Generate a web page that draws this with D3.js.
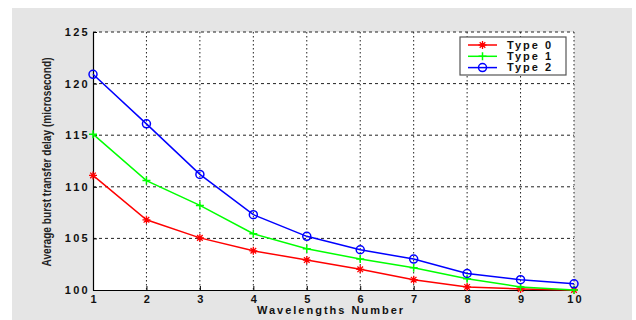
<!DOCTYPE html>
<html>
<head>
<meta charset="utf-8">
<script src="https://cdn.jsdelivr.net/npm/d3@7"></script>
<style>
  body { margin: 0; background: #fff; }
  svg { display: block; }
</style>
</head>
<body>
<script>
const wavelengths = [1, 2, 3, 4, 5, 6, 7, 8, 9, 10];
const type0 = [111.1, 106.8, 105.05, 103.8, 102.9, 102.0, 101.0, 100.3, 100.1, 100.0];
const type1 = [115.1, 110.6, 108.2, 105.45, 104.0, 103.0, 102.15, 101.1, 100.3, 100.0];
const type2 = [120.9, 116.1, 111.2, 107.3, 105.2, 103.9, 103.0, 101.6, 101.0, 100.6];
const yTicks = [100, 105, 110, 115, 120, 125];
const seriesNames = ["Type 0", "Type 1", "Type 2"];
const seriesColors = ["#ff0000", "#00ff00", "#0000ff"];
const seriesMarkers = ["star", "plus", "circle"];

const W = 636, H = 320;
const margin = {top: 32, right: 62, bottom: 30, left: 93};
const width = W - margin.left - margin.right;
const height = H - margin.top - margin.bottom;

const root = d3.select("body").append("svg")
  .attr("width", W)
  .attr("height", H);

// grey figure background
root.append("rect")
  .attr("x", 12).attr("y", 8)
  .attr("width", 620).attr("height", 312)
  .attr("fill", "#e5e5e5");

const svg = root.append("g")
  .attr("transform", `translate(${margin.left}, ${margin.top})`);

svg.append("rect")
  .attr("width", width).attr("height", height)
  .attr("fill", "#fff");

const x = d3.scaleLinear().domain([1, 10]).range([0, width]);
const y = d3.scaleLinear().domain([100, 125]).range([height, 0]);

const tickFont = "'Liberation Sans', Arial, sans-serif";

// grid
svg.append("g").selectAll("line")
  .data(yTicks.slice(1))
  .enter().append("line")
    .attr("x1", 0).attr("x2", width)
    .attr("y1", d => y(d)).attr("y2", d => y(d))
    .attr("stroke", "#222").attr("stroke-width", 1)
    .attr("stroke-dasharray", "3,3");

svg.append("g").selectAll("line")
  .data(wavelengths.slice(1))
  .enter().append("line")
    .attr("x1", d => x(d)).attr("x2", d => x(d))
    .attr("y1", 0).attr("y2", height)
    .attr("stroke", "#222").attr("stroke-width", 1)
    .attr("stroke-dasharray", "1.5,2.5");

// axes
const xAxis = svg.append("g")
  .attr("transform", `translate(0, ${height})`)
  .call(d3.axisBottom(x).tickValues(wavelengths).tickSize(4).tickSizeOuter(0));
const yAxis = svg.append("g")
  .call(d3.axisLeft(y).tickValues(yTicks).tickSize(4).tickSizeOuter(0));

[xAxis, yAxis].forEach(a => {
  a.select(".domain").attr("stroke", "#000").attr("stroke-width", 1.2);
  a.selectAll(".tick line").attr("stroke", "#000").attr("stroke-dasharray", null);
  a.selectAll(".tick text")
    .attr("font-family", tickFont)
    .attr("font-size", 11)
    .attr("font-weight", "bold")
    .attr("letter-spacing", "2.3px")
    .attr("fill", "#111");
});
xAxis.selectAll(".tick line").attr("y2", -4);
yAxis.selectAll(".tick line").attr("x2", 4);
xAxis.selectAll(".tick text").attr("dy", "0.5em").attr("dx", "0.1em");
yAxis.selectAll(".tick text").attr("x", -3);

// series
const allSeries = [type0, type1, type2];
const line = d3.line()
  .x((d, i) => x(wavelengths[i]))
  .y(d => y(d));

function drawMarker(g, kind, color) {
  if (kind === "circle") {
    g.append("circle").attr("r", 4)
      .attr("fill", "none").attr("stroke", color).attr("stroke-width", 1.5);
  } else if (kind === "plus") {
    g.append("path").attr("d", "M-4,0H4M0,-4V4")
      .attr("stroke", color).attr("stroke-width", 1.5);
  } else {
    g.append("path").attr("d", "M-4,0H4M0,-4V4M-2.8,-2.8L2.8,2.8M-2.8,2.8L2.8,-2.8")
      .attr("stroke", color).attr("stroke-width", 1.3);
  }
}

allSeries.forEach((vals, k) => {
  svg.append("path")
    .datum(vals)
    .attr("d", line)
    .attr("fill", "none")
    .attr("stroke", seriesColors[k])
    .attr("stroke-width", 1.5);
  svg.append("g").selectAll("g")
    .data(vals)
    .enter().append("g")
      .attr("transform", (d, i) => `translate(${x(wavelengths[i])}, ${y(d)})`)
      .each(function() { drawMarker(d3.select(this), seriesMarkers[k], seriesColors[k]); });
});

// legend
const lg = svg.append("g")
  .attr("transform", `translate(${460 - margin.left}, ${37 - margin.top})`);
lg.append("rect")
  .attr("width", 106).attr("height", 38)
  .attr("fill", "#fff").attr("stroke", "#555").attr("stroke-width", 1.2);
seriesNames.forEach((name, k) => {
  const row = lg.append("g").attr("transform", `translate(0, ${8 + k * 11.3})`);
  row.append("line")
    .attr("x1", 8).attr("x2", 37)
    .attr("stroke", seriesColors[k]).attr("stroke-width", 1.5);
  const m = row.append("g").attr("transform", "translate(22.5, 0)");
  drawMarker(m, seriesMarkers[k], seriesColors[k]);
  row.append("text")
    .attr("x", 47).attr("dy", "0.35em")
    .attr("font-family", tickFont)
    .attr("font-size", 11)
    .attr("font-weight", "bold")
    .attr("letter-spacing", "2px")
    .attr("fill", "#111")
    .text(name);
});

// axis titles
root.append("text")
  .attr("x", 331).attr("y", 314)
  .attr("text-anchor", "middle")
  .attr("font-family", tickFont)
  .attr("font-size", 11)
  .attr("font-weight", "bold")
  .attr("letter-spacing", "2px")
  .attr("fill", "#111")
  .text("Wavelengths Number");

root.append("text")
  .attr("transform", "translate(51, 162) rotate(-90)")
  .attr("text-anchor", "middle")
  .attr("font-family", "'Liberation Sans Narrow', 'Liberation Sans', Arial, sans-serif")
  .attr("font-size", 12)
  .attr("font-weight", "bold")
  .attr("textLength", 209)
  .attr("lengthAdjust", "spacingAndGlyphs")
  .attr("fill", "#222")
  .text("Average burst transfer delay (microsecond)");
</script>
</body>
</html>
